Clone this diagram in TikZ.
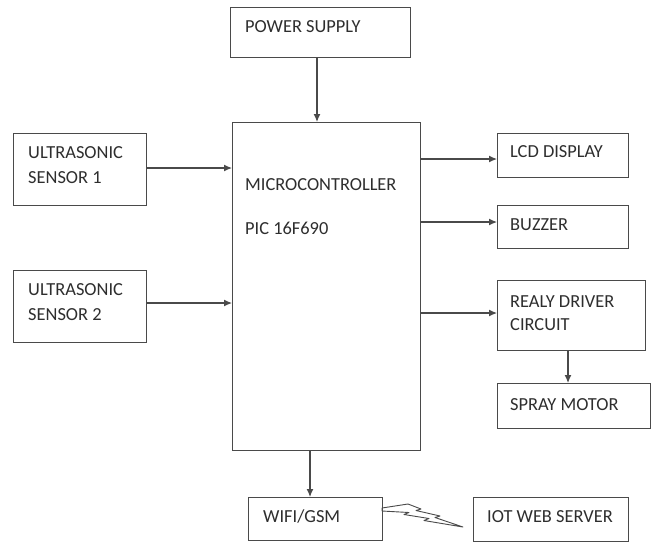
\documentclass[tikz,border=0pt]{standalone}
\usepackage{fontspec}
\setmainfont{Carlito}
\usetikzlibrary{arrows.meta}
\definecolor{ln}{HTML}{4A4A4A}
\definecolor{tx}{HTML}{2E2E2E}
\begin{document}
\begin{tikzpicture}[x=1pt,y=-1pt,
  box/.style={draw=ln, line width=1.2pt, anchor=north west, inner sep=0pt},
  lbl/.style={anchor=base west, inner sep=0pt, text=tx, font=\fontsize{18.4}{20}\selectfont},
  conn/.style={draw=ln, line width=1.2pt, -{Latex[length=8pt,width=7pt]}}]
\useasboundingbox (0,0) rectangle (651,542);
\fill[white] (0,0) rectangle (651,542);
% boxes
\node[box, minimum width=180pt, minimum height=50pt] (ps) at (230,7) {};
\node[box, minimum width=188pt, minimum height=328pt] (mc) at (232,122) {};
\node[box, minimum width=133pt, minimum height=72pt] (us1) at (13,133) {};
\node[box, minimum width=133pt, minimum height=72pt] (us2) at (13,270) {};
\node[box, minimum width=131pt, minimum height=44pt] (lcd) at (497,133) {};
\node[box, minimum width=131pt, minimum height=43pt] (buz) at (497,205) {};
\node[box, minimum width=148pt, minimum height=70pt] (rel) at (497,280) {};
\node[box, minimum width=153pt, minimum height=45pt] (spr) at (497,383) {};
\node[box, minimum width=134pt, minimum height=43pt] (wifi) at (248,497) {};
\node[box, minimum width=155pt, minimum height=44pt] (iot) at (473,497) {};
% texts
\node[lbl] (tps) at (245,32) {POWER SUPPLY};
\node[lbl] (tmc1) at (245,190) {MICROCONTROLLER};
\node[lbl] (tmc2) at (245,234) {PIC 16F690};
\node[lbl] (tus1a) at (28,158) {ULTRASONIC};
\node[lbl] (tus1b) at (28,183) {SENSOR 1};
\node[lbl] (tus2a) at (28,295) {ULTRASONIC};
\node[lbl] (tus2b) at (28,320) {SENSOR 2};
\node[lbl] (tlcd) at (510,157) {LCD DISPLAY};
\node[lbl] (tbuz) at (510,230) {BUZZER};
\node[lbl] (trel1) at (510,307) {REALY DRIVER};
\node[lbl] (trel2) at (510,330) {CIRCUIT};
\node[lbl] (tspr) at (510,410) {SPRAY MOTOR};
\node[lbl] (twifi) at (263,522) {WIFI/GSM};
\node[lbl] (tiot) at (487,522.5) {IOT WEB SERVER};
% connectors
\draw[conn] (ps.south -| 317,0) -- (mc.north -| 317,0);
\draw[conn] (us1.east |- 0,168) -- (mc.west |- 0,168);
\draw[conn] (us2.east |- 0,303) -- (mc.west |- 0,303);
\draw[conn] (mc.east |- 0,159) -- (lcd.west |- 0,159);
\draw[conn] (mc.east |- 0,222) -- (buz.west |- 0,222);
\draw[conn] (mc.east |- 0,313) -- (rel.west |- 0,313);
\draw[conn] (rel.south -| 568,0) -- (spr.north -| 568,0);
\draw[conn] (mc.south -| 310,0) -- (wifi.north -| 310,0);
% wireless link (lightning bolt)
\draw[ln, line width=0.9pt, line join=round]
  (382,508) -- (408,504) -- (421,509) -- (416,510.5) -- (440,516) -- (435,517.5)
  -- (463,527) -- (424,520.5) -- (429,518.5) -- (404,514.5) -- (409,512.5) -- (382,511) -- cycle;
\end{tikzpicture}
\end{document}
